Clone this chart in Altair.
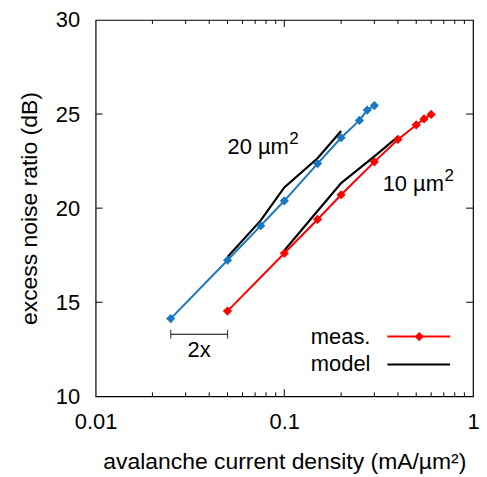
import altair as alt
import pandas as pd

# measured data
x20 = [0.025, 0.05, 0.075, 0.1, 0.15, 0.2, 0.25, 0.275, 0.3]
y20 = [14.13, 17.23, 19.07, 20.39, 22.37, 23.74, 24.66, 25.21, 25.45]
x10 = [0.05, 0.1, 0.15, 0.2, 0.3, 0.4, 0.5, 0.55, 0.6]
y10 = [14.53, 17.6, 19.4, 20.71, 22.46, 23.65, 24.42, 24.74, 24.98]
# model curves
mx20 = [0.05, 0.075, 0.1, 0.15, 0.2]
my20 = [17.4, 19.35, 21.1, 22.65, 24.1]
mx10 = [0.1, 0.15, 0.2, 0.3, 0.4]
my10 = [17.75, 19.85, 21.33, 22.75, 23.8]

# axis ticks
y_ticks = [10, 15, 20, 25, 30]
y_inner = [15, 20, 25]
x_major = [0.1]
x_minor = [0.02, 0.03, 0.04, 0.05, 0.06, 0.07, 0.08, 0.09,
           0.2, 0.3, 0.4, 0.5, 0.6, 0.7, 0.8, 0.9]

# annotations
ann_text = ["20 µm", "10 µm"]
ann_x = [0.05, 0.332]
ann_y = [22.9, 20.9]
bracket_x = [0.025, 0.05]
bracket_y = 13.3
bracket_label = "2x"
bracket_label_y = 12.45

BLUE = "#1a78c0"
RED = "#ff0000"
FONT = "Liberation Sans"
W, H = 379, 378

xs = alt.Scale(type="log", domain=[0.01, 1])
ys = alt.Scale(domain=[10, 30])

meas = pd.concat([
    pd.DataFrame({"x": x20, "y": y20, "s": "20"}),
    pd.DataFrame({"x": x10, "y": y10, "s": "10"}),
])
model = pd.concat([
    pd.DataFrame({"x": mx20, "y": my20, "s": "20"}),
    pd.DataFrame({"x": mx10, "y": my10, "s": "10"}),
])
color = alt.Color("s:N", scale=alt.Scale(domain=["20", "10"], range=[BLUE, RED]), legend=None)

X = alt.X("x:Q", scale=xs,
          axis=alt.Axis(values=[0.01, 0.1, 1], format="~g", ticks=False, domain=False, grid=False,
                        title="avalanche current density (mA/µm²)", labelFontSize=22,
                        titleFontSize=23, labelPadding=15, titlePadding=18, labelFlush=False))
Y = alt.Y("y:Q", scale=ys,
          axis=alt.Axis(values=y_ticks, ticks=False, domain=False, grid=False,
                        title="excess noise ratio (dB)", labelFontSize=22, titleFontSize=23,
                        labelPadding=16, titlePadding=14))

lines = alt.Chart(meas).mark_line(strokeWidth=2).encode(x=X, y=Y, color=color, detail="s:N")
pts = alt.Chart(meas).mark_point(shape="diamond", filled=True, size=85, opacity=1).encode(
    x=alt.X("x:Q", scale=xs), y=alt.Y("y:Q", scale=ys), color=color)
mod = alt.Chart(model).mark_line(strokeWidth=2.2, color="black").encode(
    x=alt.X("x:Q", scale=xs), y=alt.Y("y:Q", scale=ys), detail="s:N")

# inward ticks
ytick_df = pd.DataFrame({"y": y_inner})
yl = alt.Chart(ytick_df).mark_rule(color="black").encode(
    y=alt.Y("y:Q", scale=ys), x=alt.value(0), x2=alt.value(7))
yr = alt.Chart(ytick_df).mark_rule(color="black").encode(
    y=alt.Y("y:Q", scale=ys), x=alt.value(W), x2=alt.value(W - 7))
xmaj_df = pd.DataFrame({"x": x_major})
xmin_df = pd.DataFrame({"x": x_minor})
xb = alt.Chart(xmaj_df).mark_rule(color="black").encode(
    x=alt.X("x:Q", scale=xs), y=alt.value(H), y2=alt.value(H - 7))
xt = alt.Chart(xmaj_df).mark_rule(color="black").encode(
    x=alt.X("x:Q", scale=xs), y=alt.value(0), y2=alt.value(7))
xbm = alt.Chart(xmin_df).mark_rule(color="black").encode(
    x=alt.X("x:Q", scale=xs), y=alt.value(H), y2=alt.value(H - 4))
xtm = alt.Chart(xmin_df).mark_rule(color="black").encode(
    x=alt.X("x:Q", scale=xs), y=alt.value(0), y2=alt.value(4))

# annotations
ann_df = pd.DataFrame({"x": ann_x, "y": ann_y, "t": ann_text})
ann = alt.Chart(ann_df).mark_text(align="left", baseline="alphabetic", fontSize=22, font=FONT).encode(
    x=alt.X("x:Q", scale=xs), y=alt.Y("y:Q", scale=ys), text="t:N")
sup = alt.Chart(ann_df).mark_text(align="left", baseline="alphabetic", fontSize=17, font=FONT,
                                  dx=62, dy=-10).encode(
    x=alt.X("x:Q", scale=xs), y=alt.Y("y:Q", scale=ys), text=alt.value("2"))

br_df = pd.DataFrame({"x": [bracket_x[0]], "x2": [bracket_x[1]], "y": [bracket_y]})
br = alt.Chart(br_df).mark_rule(color="black", strokeWidth=1.2).encode(
    x=alt.X("x:Q", scale=xs), x2="x2:Q", y=alt.Y("y:Q", scale=ys))
brt_df = pd.DataFrame({"x": bracket_x, "y": [bracket_y, bracket_y]})
brt = alt.Chart(brt_df).mark_tick(color="black", orient="vertical", size=9, thickness=1.2).encode(
    x=alt.X("x:Q", scale=xs), y=alt.Y("y:Q", scale=ys))
brl_df = pd.DataFrame({"x": [(bracket_x[0] * bracket_x[1]) ** 0.5], "y": [bracket_label_y], "t": [bracket_label]})
brl = alt.Chart(brl_df).mark_text(align="center", baseline="middle", fontSize=22, font=FONT).encode(
    x=alt.X("x:Q", scale=xs), y=alt.Y("y:Q", scale=ys), text="t:N")

# legend
leg_names = ["meas.", "model"]
leg_colors = [RED, "black"]
leg_df = pd.DataFrame({"t": leg_names, "c": leg_colors, "py": [318, 346]})
leg_text = alt.Chart(leg_df).mark_text(align="right", baseline="middle", fontSize=22, font=FONT).encode(
    x=alt.value(276), y=alt.Y("py:Q", scale=None), text="t:N")
leg_line = alt.Chart(leg_df).mark_rule(strokeWidth=2).encode(
    x=alt.value(293), x2=alt.value(356), y=alt.Y("py:Q", scale=None), color=alt.Color("c:N", scale=None))
leg_pt = alt.Chart(leg_df.iloc[:1]).mark_point(shape="diamond", filled=True, size=85, opacity=1).encode(
    x=alt.value(325), y=alt.Y("py:Q", scale=None), color=alt.Color("c:N", scale=None))

chart = alt.layer(
    yl, yr, xb, xt, xbm, xtm, mod, lines, pts, ann, sup, br, brt, brl, leg_line, leg_pt, leg_text
).properties(
    width=W, height=H,
    autosize=alt.AutoSizeParams(type="none"),
    padding={"left": 88, "top": 11, "right": 6, "bottom": 78},
).configure_view(stroke="black", strokeWidth=1.2).configure_axis(
    labelFont=FONT, titleFont=FONT, labelColor="black", titleColor="black", titleFontWeight="normal"
).configure_text(color="black")

chart.save("out.html", embed_options={"renderer": "svg", "actions": False})
